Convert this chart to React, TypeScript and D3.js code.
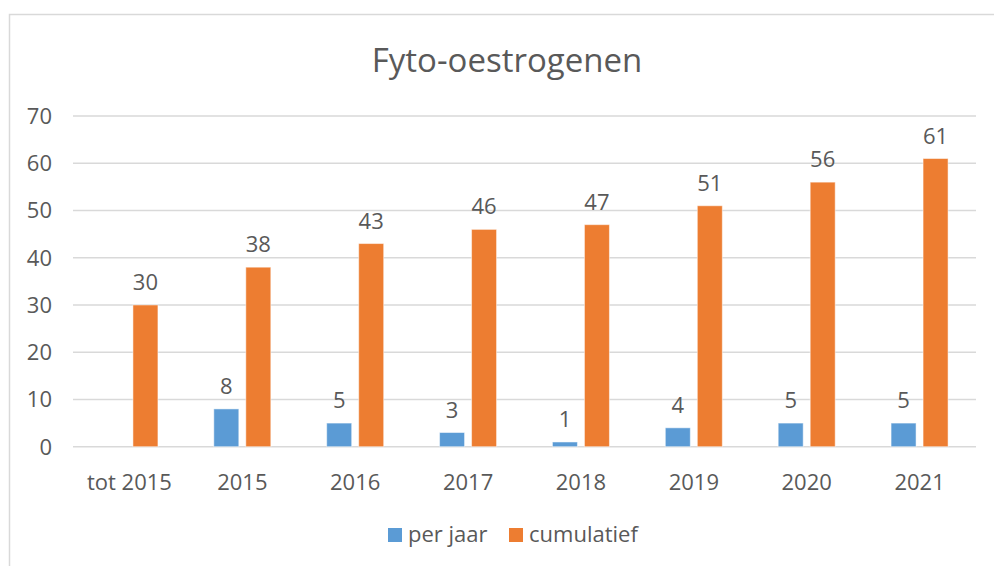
import React from "react";
import * as d3 from "d3";

const categories = ["tot 2015", "2015", "2016", "2017", "2018", "2019", "2020", "2021"];
const perJaar: (number | null)[] = [null, 8, 5, 3, 1, 4, 5, 5];
const cumulatief = [30, 38, 43, 46, 47, 51, 56, 61];
const yTicks = [0, 10, 20, 30, 40, 50, 60, 70];
const seriesNames = ["per jaar", "cumulatief"];
const colors = ["#5B9BD5", "#ED7D31"];

const W = 994;
const H = 566;
const FONT = "'Open Sans', sans-serif";
const TXT = "#595959";

export default function App() {
  const x = d3.scaleBand<string>().domain(categories).range([73, 976]).padding(0);
  const y = d3.scaleLinear().domain([0, 70]).range([446.7, 116]);
  const step = x.step();
  const barW = 25;
  const gap = 7;
  const inner = d3
    .scaleBand<number>()
    .domain([0, 1])
    .range([-(barW + gap / 2) , barW + gap / 2])
    .paddingInner(gap / (barW + gap));
  const series = [perJaar, cumulatief];

  return (
    <svg
      width={W}
      height={H}
      style={{ position: "absolute", left: 0, top: 0, background: "#fff" }}
    >
      <rect x={0} y={0} width={W} height={H} fill="#fff" />
      <rect x={9.5} y={14.5} width={1100} height={700} fill="none" stroke="#d9d9d9" strokeWidth={1.5} />
      <text x={507} y={72} textAnchor="middle" fontFamily={FONT} fontSize={33} fill={TXT}>
        Fyto-oestrogenen
      </text>
      {yTicks.map((t) => (
        <g key={t}>
          <line x1={73} x2={976} y1={y(t)} y2={y(t)} stroke="#d9d9d9" strokeWidth={1.4} />
          <text x={52} y={y(t) + 8} textAnchor="end" fontFamily={FONT} fontSize={22} fill={TXT}>
            {t}
          </text>
        </g>
      ))}
      {series.map((vals, si) =>
        vals.map((v, i) => {
          if (v === null) return null;
          const cx = (x(categories[i]) as number) + step / 2;
          const bx = cx + (inner(si) as number);
          return (
            <g key={`${si}-${i}`}>
              <rect
                x={bx}
                y={y(v)}
                width={inner.bandwidth()}
                height={y(0) - y(v)}
                fill={colors[si]}
                stroke="#fff"
                strokeOpacity={0.5}
                strokeWidth={1}
              />
              <text
                x={bx + inner.bandwidth() / 2}
                y={y(v) - 15}
                textAnchor="middle"
                fontFamily={FONT}
                fontSize={22}
                fill={TXT}
              >
                {v}
              </text>
            </g>
          );
        })
      )}
      {categories.map((c) => (
        <text
          key={c}
          x={(x(c) as number) + step / 2}
          y={490}
          textAnchor="middle"
          fontFamily={FONT}
          fontSize={22}
          fill={TXT}
        >
          {c}
        </text>
      ))}
      <g>
        <rect x={388} y={528} width={14} height={14} fill={colors[0]} />
        <text x={408} y={542} fontFamily={FONT} fontSize={22} fill={TXT}>
          {seriesNames[0]}
        </text>
        <rect x={509} y={528} width={14} height={14} fill={colors[1]} />
        <text x={529} y={542} fontFamily={FONT} fontSize={22} fill={TXT}>
          {seriesNames[1]}
        </text>
      </g>
    </svg>
  );
}
